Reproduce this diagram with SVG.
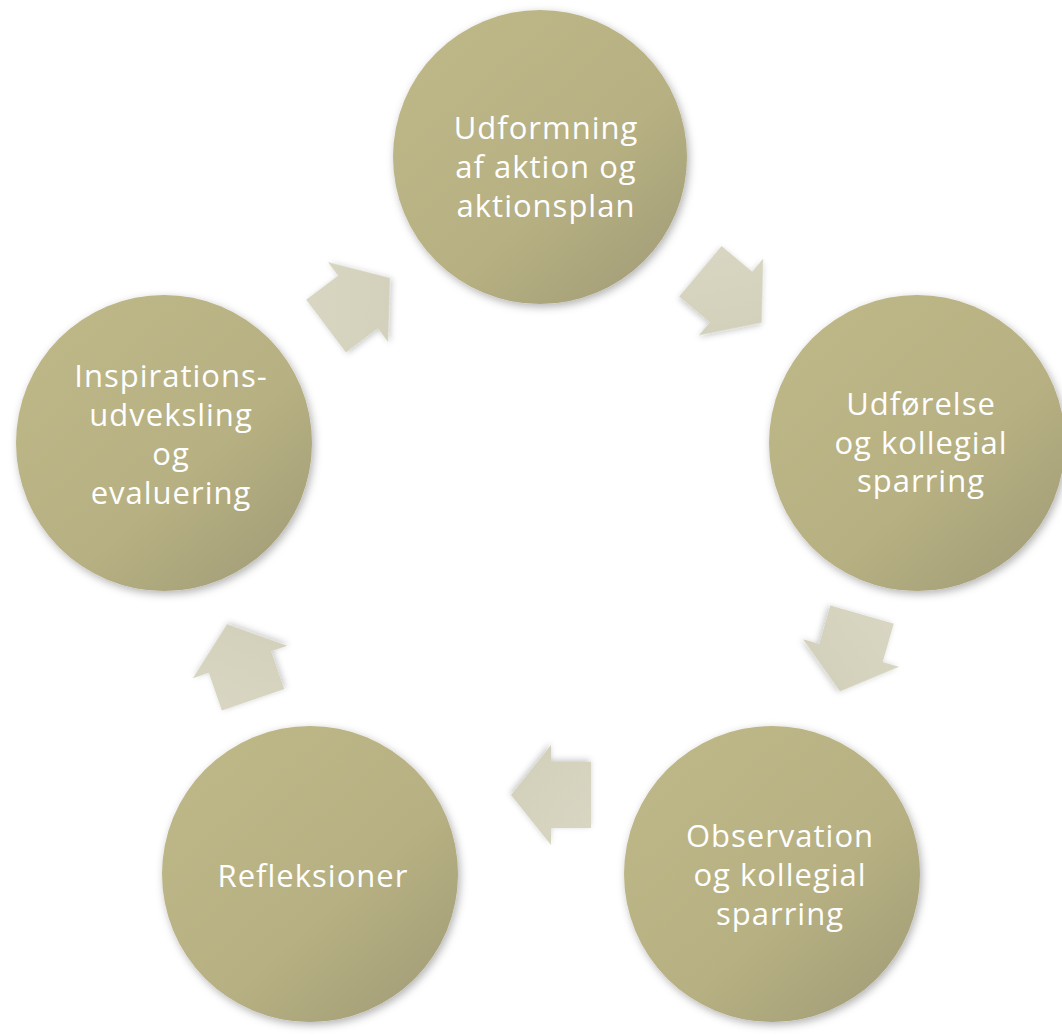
<svg xmlns="http://www.w3.org/2000/svg" width="1062" height="1035" viewBox="0 0 1062 1035">
<defs>
<linearGradient id="cg" x1="0.2" y1="0.1" x2="0.95" y2="0.95">
<stop offset="0" stop-color="#bdb788"/>
<stop offset="0.55" stop-color="#b6b082"/>
<stop offset="1" stop-color="#a39d78"/>
</linearGradient>
<linearGradient id="ag" x1="0" y1="0" x2="1" y2="1">
<stop offset="0" stop-color="#d9d7c3"/>
<stop offset="1" stop-color="#d1cfb9"/>
</linearGradient>
<filter id="sh" x="-20%" y="-20%" width="140%" height="140%">
<feDropShadow dx="2" dy="3" stdDeviation="4" flood-color="#000" flood-opacity="0.3"/>
</filter>
<filter id="ash" x="-30%" y="-30%" width="160%" height="160%">
<feDropShadow dx="1" dy="2" stdDeviation="3" flood-color="#000" flood-opacity="0.22"/>
</filter>
<path id="arr" d="M-40,-33 L0,-33 L0,-50 L40,0 L0,50 L0,33 L-40,33 Z"/>
</defs>
<style>
.c{fill:url(#cg);filter:url(#sh)}
.a{fill:url(#ag);filter:url(#ash)}
.t{font-family:"Open Sans","Liberation Sans",sans-serif;font-size:31px;letter-spacing:1px;fill:#ffffff;text-anchor:middle}
</style>
<rect width="1062" height="1035" fill="#ffffff"/>
<g id="connectors">
<use href="#arr" class="a" transform="translate(358,302) rotate(-37)"/>
<use href="#arr" class="a" transform="translate(731,297) rotate(40)"/>
<use href="#arr" class="a" transform="translate(851,653) rotate(106)"/>
<use href="#arr" class="a" transform="translate(551,795) rotate(180)"/>
<use href="#arr" class="a" transform="translate(240,662) rotate(-109)"/>
</g>
<g id="n1">
<circle class="c" cx="540" cy="157" r="147"/>
<text class="t"><tspan x="546" y="139">Udformning</tspan><tspan x="546" y="178">af aktion og</tspan><tspan x="546" y="217">aktionsplan</tspan></text>
</g>
<g id="n2">
<circle class="c" cx="917" cy="443" r="148"/>
<text class="t"><tspan x="921" y="415">Udførelse</tspan><tspan x="921" y="454">og kollegial</tspan><tspan x="921" y="492">sparring</tspan></text>
</g>
<g id="n3">
<circle class="c" cx="772" cy="874" r="148"/>
<text class="t"><tspan x="780" y="847">Observation</tspan><tspan x="780" y="886">og kollegial</tspan><tspan x="780" y="925">sparring</tspan></text>
</g>
<g id="n4">
<circle class="c" cx="310" cy="874" r="148"/>
<text class="t"><tspan x="313" y="887">Refleksioner</tspan></text>
</g>
<g id="n5">
<circle class="c" cx="164" cy="443" r="148"/>
<text class="t"><tspan x="171" y="387">Inspirations-</tspan><tspan x="171" y="426">udveksling</tspan><tspan x="171" y="465">og</tspan><tspan x="171" y="504">evaluering</tspan></text>
</g>
</svg>
